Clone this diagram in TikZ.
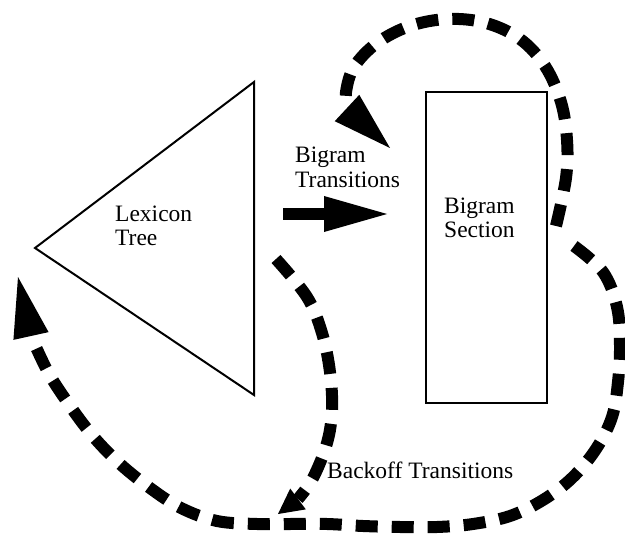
\documentclass[tikz,border=0pt]{standalone}
\usepackage{fontspec}
\setmainfont{Liberation Serif}
\usetikzlibrary{calc}
\tikzset{
  outline/.style={draw=black,line width=2pt},
  backoff/.style={draw=black,line width=12pt,dash pattern=on 22pt off 14pt,line cap=butt},
  lbl/.style={font=\fontsize{23.5}{25}\selectfont,inner sep=0pt,anchor=base west},
}
% filled arrow head: #1 = middle of its base, #2 = tip, #3 = half width
\newcommand\headfill[3]{%
  \fill (#2) -- ($(#1)!#3!90:(#2)$) -- ($(#1)!#3!-90:(#2)$) -- cycle;}

\begin{document}
\begin{tikzpicture}[x=1pt,y=-1pt]
\useasboundingbox (0,0) rectangle (625,535);

% lexicon tree
\coordinate (root) at (35,248);
\coordinate (leafTop) at (254,82);
\coordinate (leafBot) at (254,395);
\draw[outline,line join=miter] (root) -- (leafTop) -- (leafBot) -- cycle;
\node[lbl] (lex) at (115,222) {Lexicon};
\node[lbl] (tree) at (115,245) {Tree};

% bigram section
\node[outline,minimum width=121pt,minimum height=311pt,inner sep=0pt] (sec) at (486,247.5) {};
\node[lbl] (secA) at (444,213) {Bigram};
\node[lbl] (secB) at (444,237) {Section};

% bigram transitions
\coordinate (btTail) at (283,214);
\coordinate (btBase) at (324,214);
\coordinate (btTip) at (387,214);
\draw[line width=12pt] (btTail) -- (btBase);
\headfill{btBase}{btTip}{18pt}
\node[lbl] (btA) at (295,163) {Bigram};
\node[lbl] (btB) at (295,188) {Transitions};

% loop over the top of the bigram section
\coordinate (topStart) at (556,226);
\coordinate (topBase) at (347,108);
\coordinate (topTip) at (390,148);
\draw[backoff] plot[smooth,tension=0.6] coordinates {
  (topStart) (566,178) (567,140) (561,102) (545,66) (520,39) (486,23)
  (448,19) (410,26) (377,43) (354,67) (346,92) (topBase)};
\headfill{topBase}{topTip}{18pt}

% outer backoff loop to the tree root
\coordinate (outStart) at (574,246);
\coordinate (outBase) at (31,336);
\coordinate (outTip) at (18,277);
\draw[backoff] plot[smooth,tension=0.6] coordinates {
  (outStart) (603,272) (617,307) (620,345) (618,382) (612,417) (596,449)
  (572,478) (543,500) (510,516) (473,524) (437,527) (400,527) (363,526)
  (327,524) (290,524) (257,524) (217,521) (181,508) (150,488) (119,463)
  (92,435) (68,403) (48,372) (outBase)};
\headfill{outBase}{outTip}{18pt}

% backoff from the tree leaves
\coordinate (inStart) at (276,259);
\coordinate (inBase) at (298,499);
\coordinate (inTip) at (278,514);
\draw[backoff] plot[smooth,tension=0.6] coordinates {
  (inStart) (307,297) (322,333) (330,372) (332,410) (327,443) (313,478) (inBase)};
\headfill{inBase}{inTip}{13pt}
\node[lbl] (bo) at (327,478) {Backoff Transitions};

\end{tikzpicture}
\end{document}
